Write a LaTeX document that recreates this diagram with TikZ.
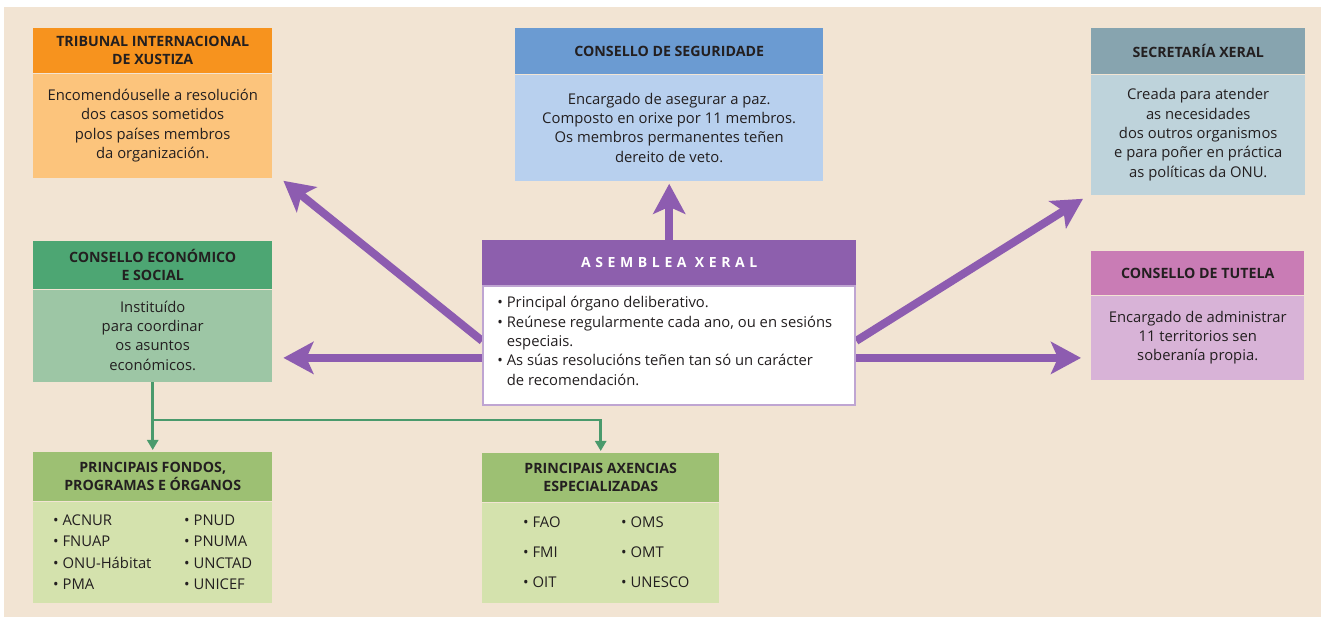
\documentclass[tikz,border=0pt]{standalone}
\usepackage{fontspec}
\setmainfont{Open Sans}
\usepackage{tikz}
\usetikzlibrary{positioning}
\usetikzlibrary{arrows.meta}
\usetikzlibrary{backgrounds}

\definecolor{fondo}{HTML}{F2E4D3}
\definecolor{texto}{HTML}{231F20}
\definecolor{trbC}{HTML}{F7931E}
\definecolor{trbL}{HTML}{FCC47C}
\definecolor{segC}{HTML}{6B9BD2}
\definecolor{segL}{HTML}{B8D0EE}
\definecolor{secC}{HTML}{87A4AF}
\definecolor{secL}{HTML}{BED3DB}
\definecolor{tutC}{HTML}{C97CB5}
\definecolor{tutL}{HTML}{D8B3D7}
\definecolor{asmC}{HTML}{8D5FAD}
\definecolor{asmL}{HTML}{BFA5D2}
\definecolor{ecoC}{HTML}{4DA673}
\definecolor{ecoL}{HTML}{9DC6A5}
\definecolor{orgC}{HTML}{9DC073}
\definecolor{orgL}{HTML}{D4E2AD}
\definecolor{frecha}{HTML}{8D5CB0}
\definecolor{verde}{HTML}{4A9A6C}

\newcommand{\cabfont}{\fontsize{14.2}{18}\selectfont\bfseries}
\newcommand{\corpofont}{\fontsize{14.8}{19.3}\selectfont}

\begin{document}
\begin{tikzpicture}[x=1pt, y=1pt,
	cab/.style={rectangle, anchor=north west, inner sep=0pt, align=center, font=\cabfont, text=texto},
	corpo/.style={rectangle, inner sep=0pt, align=center, font=\corpofont, text=texto},
	lista/.style={inner sep=0pt, align=left, anchor=west, text=texto},
	parr/.style={line width=8pt, color=frecha, -{Stealth[length=30pt, width=32pt, inset=7pt]}},
	garr/.style={line width=2.5pt, color=verde, -{Triangle[length=10pt, width=11pt]}}]
	\useasboundingbox (0,0) rectangle (1321,617);

	\node[cab, fill=trbC, minimum width=239pt, minimum height=45pt] (trbh) at (33,589) {TRIBUNAL INTERNACIONAL\\DE XUSTIZA};
	\node[corpo, fill=trbL, minimum width=239pt, minimum height=104pt, below=0pt of trbh] (trbb) {Encomendóuselle a resolución\\dos casos sometidos\\polos países membros\\da organización.};

	\node[cab, fill=segC, minimum width=308pt, minimum height=46pt] (segh) at (515,589) {CONSELLO DE SEGURIDADE};
	\node[corpo, fill=segL, minimum width=308pt, minimum height=106pt, below=0pt of segh] (segb) {Encargado de asegurar a paz.\\Composto en orixe por 11 membros.\\Os membros permanentes teñen\\dereito de veto.};

	\node[cab, fill=secC, minimum width=214pt, minimum height=46pt] (sech) at (1091,589) {SECRETARÍA XERAL};
	\node[corpo, fill=secL, minimum width=214pt, minimum height=120pt, below=0pt of sech] (secb) {Creada para atender\\as necesidades\\dos outros organismos\\e para poñer en práctica\\as políticas da ONU.};

	\node[cab, fill=tutC, minimum width=213pt, minimum height=44pt] (tuth) at (1091,366) {CONSELLO DE TUTELA};
	\node[corpo, fill=tutL, minimum width=213pt, minimum height=84pt, below=0pt of tuth] (tutb) {Encargado de administrar\\11 territorios sen\\soberanía propia.};

	\node[cab, fill=ecoC, minimum width=239pt, minimum height=48pt] (ecoh) at (33,376) {CONSELLO ECONÓMICO\\E SOCIAL};
	\node[corpo, fill=ecoL, minimum width=239pt, minimum height=92pt, below=0pt of ecoh] (ecob) {Instituído\\para coordinar\\os asuntos\\económicos.};

	\node[cab, fill=asmC, text=white, minimum width=374pt, minimum height=45pt, font=\fontsize{14}{16}\selectfont\bfseries\addfontfeature{LetterSpace=33}] (asmh) at (482,377) {ASEMBLEA XERAL};
	\node[corpo, fill=white, draw=asmL, line width=2pt, minimum width=372pt, minimum height=119pt, below=0pt of asmh] (asmb) {};
	\node[lista, font=\corpofont, right=15pt of asmb.west, yshift=5pt] (asmt) {\textbullet\ Principal órgano deliberativo.\\\textbullet\ Reúnese regularmente cada ano, ou en sesións\\\phantom{\textbullet\ }especiais.\\\textbullet\ As súas resolucións teñen tan só un carácter\\\phantom{\textbullet\ }de recomendación.};

	\node[cab, fill=orgC, minimum width=239pt, minimum height=49pt] (fdh) at (33,165) {PRINCIPAIS FONDOS,\\PROGRAMAS E ÓRGANOS};
	\node[corpo, fill=orgL, minimum width=239pt, minimum height=101pt, below=0pt of fdh] (fdb) {};
	\node[lista, font=\fontsize{14.8}{21.5}\selectfont, right=20pt of fdb.west] (fd1) {\textbullet\ ACNUR\\\textbullet\ FNUAP\\\textbullet\ ONU-Hábitat\\\textbullet\ PMA};
	\node[lista, font=\fontsize{14.8}{21.5}\selectfont, right=151pt of fdb.west] (fd2) {\textbullet\ PNUD\\\textbullet\ PNUMA\\\textbullet\ UNCTAD\\\textbullet\ UNICEF};

	\node[cab, fill=orgC, minimum width=237pt, minimum height=49pt] (axh) at (482,164) {PRINCIPAIS AXENCIAS\\ESPECIALIZADAS};
	\node[corpo, fill=orgL, minimum width=237pt, minimum height=100pt, below=0pt of axh] (axb) {};
	\node[lista, font=\fontsize{14.8}{30}\selectfont, right=41pt of axb.west] (ax1) {\textbullet\ FAO\\\textbullet\ FMI\\\textbullet\ OIT};
	\node[lista, font=\fontsize{14.8}{30}\selectfont, right=139pt of axb.west] (ax2) {\textbullet\ OMS\\\textbullet\ OMT\\\textbullet\ UNESCO};

	\begin{scope}[on background layer]
		\fill[white] (0,0) rectangle (1321,617);
		\fill[fondo] (4,0) rectangle (1321,610);

		\coordinate (al) at ([yshift=-12pt]asmb.west);
		\coordinate (ar) at ([yshift=-12pt]asmb.east);
		\draw[parr, shorten >=3pt] (asmh.north) -- (segb.south);
		\draw[parr] ([yshift=5pt]asmb.west) -- ([shift={(11pt,-3pt)}]trbb.south east);
		\draw[parr, shorten >=11pt] (al) -- (al -| ecob.east);
		\draw[parr] ([yshift=5pt]asmb.east) -- ([shift={(-8pt,-4pt)}]secb.south west);
		\draw[parr, shorten >=10pt] (ar) -- (ar -| tutb.west);

		\coordinate (gj) at ([yshift=-38pt]ecob.south);
		\draw[garr, shorten >=2pt] (ecob.south) -- (gj) -- (fdh.north);
		\draw[garr, shorten >=2pt] (gj) -| (axh.north);
	\end{scope}
\end{tikzpicture}
\end{document}
